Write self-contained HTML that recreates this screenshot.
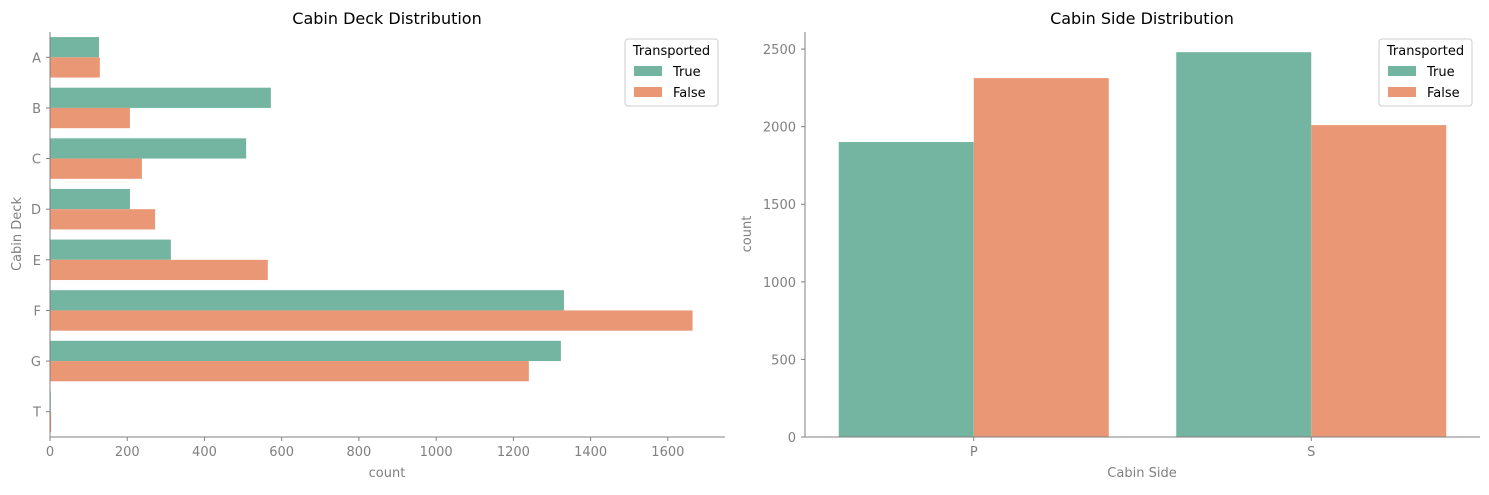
<!DOCTYPE html>
<html><head><meta charset="utf-8">
<style>
body{margin:0;background:#fff;font-family:"Liberation Sans","DejaVu Sans",sans-serif;}
svg text{font-family:"DejaVu Sans","Liberation Sans",sans-serif;}
</style></head>
<body>
<svg id="c" width="1489" height="490" xmlns="http://www.w3.org/2000/svg"></svg>
<script>
const deckCats=["A","B","C","D","E","F","G","T"];
const deckTrue=[127,572,508,207,313,1331,1323,2];
const deckFalse=[129,207,238,272,564,1664,1240,3];
const deckTicks=[0,200,400,600,800,1000,1200,1400,1600];
const sideCats=["P","S"];
const sideTrue=[1901,2480];
const sideFalse=[2313,2010];
const sideTicks=[0,500,1000,1500,2000,2500];
const cT="#73b5a0",cF="#e99775",gray="#808080";
const svg=document.getElementById('c');
const NS="http://www.w3.org/2000/svg";
function el(tag,attrs,parent,text){const e=document.createElementNS(NS,tag);for(const k in attrs)e.setAttribute(k,attrs[k]);if(text!==undefined)e.textContent=text;(parent||svg).appendChild(e);return e;}

// Left chart
const L={x0:50,x1:725,y0:32,y1:437,max:1748};
const lx=v=>L.x0+v/L.max*(L.x1-L.x0);
const band=(L.y1-L.y0)/deckCats.length;
const ly=i=>L.y0+band*(i+0.5);
const gL=el('g',{});
deckCats.forEach((c,i)=>{
  const h=band*0.8/2;
  const r1=el('rect',{x:L.x0,y:ly(i)-h,width:lx(deckTrue[i])-L.x0,height:h,fill:cT},gL);
  
  const r2=el('rect',{x:L.x0,y:ly(i),width:lx(deckFalse[i])-L.x0,height:h,fill:cF},gL);
  
  el('line',{x1:L.x0-4,x2:L.x0,y1:ly(i),y2:ly(i),stroke:gray},gL);
  const t=el('text',{x:L.x0-9,y:ly(i)+5,'text-anchor':'end','font-size':13,fill:gray},gL,c);
  
});
deckTicks.forEach(v=>{
  el('line',{x1:lx(v),x2:lx(v),y1:L.y1,y2:L.y1+4,stroke:gray},gL);
  const t=el('text',{x:lx(v),y:L.y1+19,'text-anchor':'middle','font-size':13,fill:gray},gL,v);
  
});
el('line',{x1:L.x0,x2:L.x0,y1:L.y0,y2:L.y1,stroke:gray},gL);
el('line',{x1:L.x0,x2:L.x1,y1:L.y1,y2:L.y1,stroke:gray},gL);
let t=el('text',{x:387,y:24,'text-anchor':'middle','font-size':16,fill:'#000'},gL,"Cabin Deck Distribution");

t=el('text',{x:387,y:477,'text-anchor':'middle','font-size':13,fill:gray},gL,"count");

t=el('text',{x:21,y:234,'text-anchor':'middle','font-size':13,fill:gray,transform:'rotate(-90 21 234)'},gL,"Cabin Deck");


// Right chart
const R={x0:805,x1:1480,y0:32,y1:437,max:2610};
const ry=v=>R.y1-v/R.max*(R.y1-R.y0);
const rb=(R.x1-R.x0)/sideCats.length;
const rx=i=>R.x0+rb*(i+0.5);
const gR=el('g',{});
sideCats.forEach((c,i)=>{
  const w=rb*0.8/2;
  const r1=el('rect',{x:rx(i)-w,y:ry(sideTrue[i]),width:w,height:R.y1-ry(sideTrue[i]),fill:cT},gR);
  
  const r2=el('rect',{x:rx(i),y:ry(sideFalse[i]),width:w,height:R.y1-ry(sideFalse[i]),fill:cF},gR);
  
  el('line',{x1:rx(i),x2:rx(i),y1:R.y1,y2:R.y1+4,stroke:gray},gR);
  const tt=el('text',{x:rx(i),y:R.y1+19,'text-anchor':'middle','font-size':13,fill:gray},gR,c);
  
});
sideTicks.forEach(v=>{
  el('line',{x1:R.x0-4,x2:R.x0,y1:ry(v),y2:ry(v),stroke:gray},gR);
  const tt=el('text',{x:R.x0-9,y:ry(v)+5,'text-anchor':'end','font-size':13,fill:gray},gR,v);
  
});
el('line',{x1:R.x0,x2:R.x0,y1:R.y0,y2:R.y1,stroke:gray},gR);
el('line',{x1:R.x0,x2:R.x1,y1:R.y1,y2:R.y1,stroke:gray},gR);
t=el('text',{x:1142,y:24,'text-anchor':'middle','font-size':16,fill:'#000'},gR,"Cabin Side Distribution");

t=el('text',{x:1142,y:477,'text-anchor':'middle','font-size':13,fill:gray},gR,"Cabin Side");

t=el('text',{x:751,y:234,'text-anchor':'middle','font-size':13,fill:gray,transform:'rotate(-90 751 234)'},gR,"count");


// Legends
function legend(x,y,name){
  const g=el('g',{});
  el('rect',{x:x,y:y,width:93,height:67,rx:3,fill:'#fff',stroke:'#ccc'},g);
  el('text',{x:x+46.5,y:y+16,'text-anchor':'middle','font-size':13,fill:'#000'},g,"Transported");
  el('rect',{x:x+9,y:y+27,width:28,height:10,fill:cT},g);
  el('text',{x:x+48,y:y+37,'font-size':13,fill:'#000'},g,"True");
  el('rect',{x:x+9,y:y+48,width:28,height:10,fill:cF},g);
  el('text',{x:x+48,y:y+58,'font-size':13,fill:'#000'},g,"False");
}
legend(625,39,'deck-legend');
legend(1379,39,'side-legend');
</script>
</body></html>
